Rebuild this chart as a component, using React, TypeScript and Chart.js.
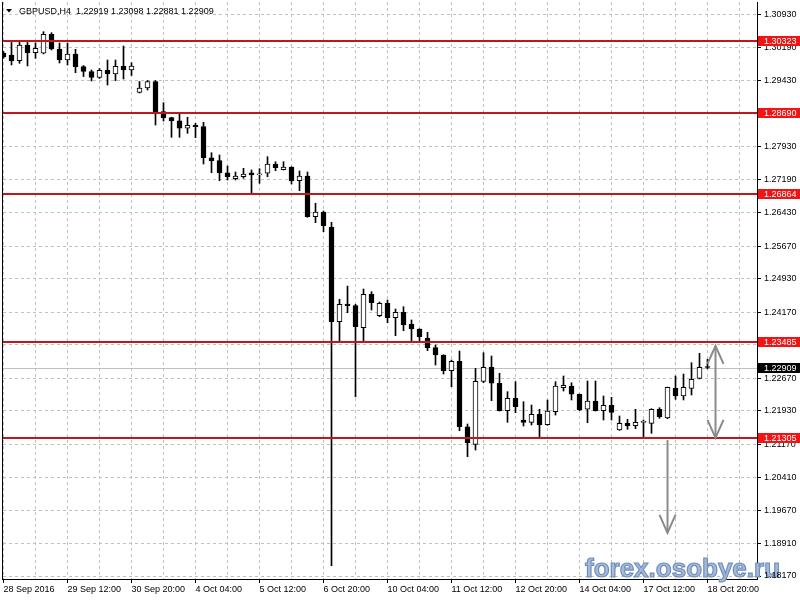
import React, { useEffect, useRef } from 'react';
import { Chart, registerables } from 'chart.js';

Chart.register(...registerables);

// ---- data ----
const timeLabels = ['28 Sep 2016', '29 Sep 12:00', '30 Sep 20:00', '4 Oct 04:00', '5 Oct 12:00', '6 Oct 20:00', '10 Oct 04:00', '11 Oct 12:00', '12 Oct 20:00', '14 Oct 04:00', '17 Oct 12:00', '18 Oct 20:00'];

const opens = [
  1.30055, 1.30014, 1.29884, 1.30241, 1.30066, 1.30053, 1.30484, 1.30150, 1.29900, 1.30037,
  1.29748, 1.29639, 1.29502, 1.29666, 1.29582, 1.29757, 1.29673, 1.29161, 1.29264, 1.29411,
  1.28725, 1.28589, 1.28520, 1.28348, 1.28416, 1.28384, 1.27679, 1.27611, 1.27338, 1.27202,
  1.27247, 1.27338, 1.27290, 1.27325, 1.27536, 1.27406, 1.27468, 1.27156, 1.27263, 1.26338,
  1.26445, 1.26097, 1.23951, 1.24353, 1.24320, 1.23815, 1.24574, 1.24087, 1.24369, 1.24042,
  1.24165, 1.23899, 1.23785, 1.23580, 1.23360, 1.23194, 1.22837, 1.23051, 1.21564, 1.21164,
  1.22596, 1.22914, 1.22551, 1.21928, 1.22210, 1.21716, 1.21664, 1.21846, 1.21610, 1.21905,
  1.22451, 1.22489, 1.22301, 1.21960, 1.22148, 1.21928, 1.22050, 1.21489, 1.21641, 1.21587,
  1.21664, 1.21641, 1.21960, 1.21762, 1.22437, 1.22262, 1.22437, 1.22664, 1.22919,
];
const highs = [
  1.30090, 1.30300, 1.30300, 1.30300, 1.30290, 1.30544, 1.30521, 1.30287, 1.30287, 1.30143,
  1.29775, 1.29673, 1.29707, 1.29900, 1.29900, 1.30218, 1.29839, 1.29411, 1.29434, 1.29434,
  1.28930, 1.28600, 1.28702, 1.28598, 1.28461, 1.28484, 1.27793, 1.27741, 1.27490, 1.27354,
  1.27438, 1.27400, 1.27429, 1.27702, 1.27588, 1.27588, 1.27475, 1.27377, 1.27354, 1.26643,
  1.26467, 1.26211, 1.24460, 1.24762, 1.24347, 1.24694, 1.24633, 1.24399, 1.24444, 1.24240,
  1.24292, 1.23990, 1.23792, 1.23710, 1.23421, 1.23200, 1.23080, 1.23285, 1.21625, 1.22892,
  1.23246, 1.23171, 1.22778, 1.22360, 1.22587, 1.22132, 1.22057, 1.21960, 1.22171, 1.22587,
  1.22717, 1.22564, 1.22310, 1.22603, 1.22603, 1.22262, 1.22232, 1.21807, 1.21732, 1.21960,
  1.21716, 1.21973, 1.21996, 1.22465, 1.22717, 1.22762, 1.23019, 1.23233, 1.23098,
];
const lows = [
  1.29940, 1.29787, 1.29825, 1.29764, 1.29939, 1.30040, 1.30128, 1.29832, 1.29787, 1.29611,
  1.29525, 1.29423, 1.29480, 1.29332, 1.29430, 1.29468, 1.29548, 1.29150, 1.29218, 1.28423,
  1.28514, 1.28143, 1.28143, 1.28234, 1.28134, 1.27536, 1.27338, 1.27156, 1.27172, 1.27172,
  1.27211, 1.26870, 1.27097, 1.27247, 1.27384, 1.27400, 1.27081, 1.26929, 1.26324, 1.26202,
  1.25997, 1.18404, 1.23496, 1.24156, 1.22246, 1.23496, 1.24217, 1.24065, 1.23928, 1.23633,
  1.23746, 1.23512, 1.23496, 1.23292, 1.22967, 1.22762, 1.22473, 1.21473, 1.20882, 1.21034,
  1.22564, 1.22155, 1.21920, 1.21664, 1.21882, 1.21580, 1.21603, 1.21323, 1.21596, 1.21830,
  1.22376, 1.22171, 1.21930, 1.21655, 1.21920, 1.21716, 1.21716, 1.21480, 1.21505, 1.21519,
  1.21337, 1.21414, 1.21755, 1.21746, 1.22187, 1.22171, 1.22285, 1.22650, 1.22881,
];
const closes = [
  1.29970, 1.29884, 1.30241, 1.30066, 1.30166, 1.30484, 1.30150, 1.29900, 1.30037, 1.29748,
  1.29639, 1.29502, 1.29666, 1.29582, 1.29757, 1.29673, 1.29764, 1.29264, 1.29411, 1.28725,
  1.28589, 1.28520, 1.28348, 1.28416, 1.28384, 1.27679, 1.27611, 1.27338, 1.27247, 1.27263,
  1.27309, 1.27286, 1.27300, 1.27536, 1.27452, 1.27468, 1.27156, 1.27263, 1.26338, 1.26445,
  1.26133, 1.23951, 1.24347, 1.24315, 1.23837, 1.24574, 1.24383, 1.24369, 1.24042, 1.24165,
  1.23876, 1.23785, 1.23610, 1.23360, 1.23194, 1.22837, 1.23051, 1.21564, 1.21200, 1.22596,
  1.22914, 1.22551, 1.21928, 1.22210, 1.22019, 1.21664, 1.21846, 1.21603, 1.21921, 1.22489,
  1.22505, 1.22301, 1.21944, 1.22148, 1.21928, 1.22050, 1.21891, 1.21641, 1.21580, 1.21664,
  1.21670, 1.21960, 1.21791, 1.22460, 1.22262, 1.22460, 1.22641, 1.22914, 1.22909,
];

const priceTicks = [
  1.30930, 1.30190, 1.29430, 1.28680, 1.27930, 1.27190, 1.26430, 1.25670, 1.24930,
  1.24170, 1.23430, 1.22670, 1.21930, 1.21170, 1.20410, 1.19670, 1.18910, 1.18170,
];
const levels = [1.30323, 1.28690, 1.26864, 1.23485, 1.21305];
const lastPrice = 1.22909;
const titleText = 'GBPUSD,H4  1.22919 1.23098 1.22881 1.22909';
const watermarkText = 'forex.osobye.ru';

// arrows drawn on the chart (candle index, top price, bottom price, heads)
const arrowIndex = [89, 83];
const arrowTop = [1.2340, 1.2126];
const arrowBottom = [1.2131, 1.1915];
const arrowBothEnds = [true, false];

// ---- axis ranges ----
const X_MIN = -0.0625;
const X_MAX = X_MIN + 754 / 8;
const Y_MAX = 1.312187;
const Y_MIN = Y_MAX - 577 / 4399;

const gridIdx: number[] = [];
for (let v = 0; v <= 92; v += 4) gridIdx.push(v);

const FONT = '"Liberation Sans", Arial, sans-serif';

const overlayPlugin = {
  id: 'mtOverlay',
  beforeDatasetsDraw(chart: any) {
    const { ctx, chartArea: a, scales } = chart;
    const py = Math.round(scales.y.getPixelForValue(lastPrice)) + 0.5;
    ctx.save();
    ctx.strokeStyle = '#c0c0c0';
    ctx.lineWidth = 1;
    ctx.beginPath();
    ctx.moveTo(a.left, py);
    ctx.lineTo(a.right, py);
    ctx.stroke();
    ctx.restore();
  },
  afterDatasetsDraw(chart: any) {
    const { ctx, chartArea: a, scales } = chart;
    ctx.save();
    // horizontal levels
    ctx.strokeStyle = '#c0161d';
    ctx.lineWidth = 2;
    levels.forEach((lv) => {
      const py = Math.round(scales.y.getPixelForValue(lv));
      ctx.beginPath();
      ctx.moveTo(a.left, py);
      ctx.lineTo(a.right, py);
      ctx.stroke();
    });
    // arrows
    ctx.strokeStyle = '#8a8a8a';
    ctx.lineWidth = 2;
    arrowIndex.forEach((xi, k) => {
      const px = scales.x.getPixelForValue(xi);
      const t = scales.y.getPixelForValue(arrowTop[k]);
      const b = scales.y.getPixelForValue(arrowBottom[k]);
      ctx.beginPath();
      ctx.moveTo(px, t);
      ctx.lineTo(px, b);
      ctx.stroke();
      ctx.beginPath();
      ctx.moveTo(px - 8, b - 18);
      ctx.lineTo(px, b);
      ctx.lineTo(px + 8, b - 18);
      ctx.stroke();
      if (arrowBothEnds[k]) {
        ctx.beginPath();
        ctx.moveTo(px - 8, t + 18);
        ctx.lineTo(px, t);
        ctx.lineTo(px + 8, t + 18);
        ctx.stroke();
      }
    });
    // left frame
    ctx.strokeStyle = '#000';
    ctx.lineWidth = 1;
    ctx.beginPath();
    ctx.moveTo(a.left - 0.5, a.top);
    ctx.lineTo(a.left - 0.5, a.bottom + 1);
    ctx.stroke();
    // title
    ctx.fillStyle = '#000';
    ctx.beginPath();
    ctx.moveTo(6, 9);
    ctx.lineTo(12, 9);
    ctx.lineTo(9, 12.5);
    ctx.closePath();
    ctx.fill();
    ctx.font = '9px ' + FONT;
    ctx.textBaseline = 'alphabetic';
    ctx.textAlign = 'left';
    ctx.fillText(titleText, 19, 13.5);
    // watermark
    ctx.font = 'bold 26px ' + FONT;
    ctx.lineWidth = 1.2;
    ctx.strokeStyle = '#6f8fbf';
    ctx.fillStyle = '#a7bad8';
    ctx.fillText(watermarkText, 585, 577);
    ctx.strokeText(watermarkText, 585, 577);
    ctx.restore();
  },
  afterDraw(chart: any) {
    const { ctx, chartArea: a, scales } = chart;
    ctx.save();
    ctx.font = '9px ' + FONT;
    ctx.textBaseline = 'middle';
    ctx.textAlign = 'left';
    const drawTag = (v: number, bg: string) => {
      const py = Math.round(scales.y.getPixelForValue(v));
      ctx.fillStyle = bg;
      ctx.fillRect(a.right + 1, py - 5, 800 - a.right - 1, 10);
      ctx.fillStyle = '#fff';
      ctx.fillText(v.toFixed(5), a.right + 7, py + 0.5);
    };
    levels.forEach((lv) => drawTag(lv, '#f01414'));
    drawTag(lastPrice, '#000');
    ctx.restore();
  },
};

export default function App() {
  const ref = useRef<HTMLCanvasElement>(null);
  useEffect(() => {
    const bodies = opens.map((o, i) => ({ x: i, y: [o, closes[i]] }));
    const wicks = lows.map((l, i) => ({ x: i, y: [l, highs[i]] }));
    const bodyColors = opens.map((o, i) => (closes[i] < o ? '#000000' : '#ffffff'));
    const chart = new Chart(ref.current as HTMLCanvasElement, {
      type: 'bar',
      data: {
        datasets: [
          {
            label: 'body',
            data: bodies as any,
            backgroundColor: bodyColors,
            borderColor: '#000',
            borderWidth: 1,
            borderSkipped: false,
            barThickness: 5,
            minBarLength: 1,
            grouped: false,
            order: 0,
          } as any,
          {
            label: 'wick',
            data: wicks as any,
            backgroundColor: '#000',
            borderWidth: 0,
            barThickness: 1,
            grouped: false,
            order: 1,
          } as any,
        ],
      },
      options: {
        responsive: false,
        animation: false,
        devicePixelRatio: 1,
        layout: { padding: { left: 3, top: 2, right: 0, bottom: 0 } },
        plugins: {
          legend: { display: false },
          tooltip: { enabled: false },
          title: { display: false },
        },
        scales: {
          x: {
            type: 'linear',
            position: 'bottom',
            offset: false,
            min: X_MIN,
            max: X_MAX,
            afterBuildTicks: (s: any) => {
              s.ticks = gridIdx.map((v) => ({ value: v }));
            },
            afterFit: (s: any) => {
              s.height = 21;
              s.paddingLeft = 0;
              s.paddingRight = 0;
            },
            grid: {
              offset: false,
              color: '#c0c0c0',
              lineWidth: 1,
              tickLength: 4,
              tickColor: (c: any) => (c.tick && c.tick.value % 8 === 0 ? '#000' : 'rgba(0,0,0,0)'),
            },
            border: { display: true, color: '#000', dash: [3, 3] },
            ticks: {
              autoSkip: false,
              maxRotation: 0,
              minRotation: 0,
              align: 'start',
              padding: 1,
              color: '#000',
              font: { family: FONT, size: 9 },
              callback: (v: any) => (v % 8 === 0 ? timeLabels[v / 8] : ''),
            },
          },
          y: {
            type: 'linear',
            position: 'right',
            min: Y_MIN,
            max: Y_MAX,
            afterBuildTicks: (s: any) => {
              s.ticks = priceTicks.map((v) => ({ value: v }));
            },
            afterFit: (s: any) => {
              s.width = 43;
              s.paddingTop = 0;
              s.paddingBottom = 0;
            },
            grid: { color: '#c0c0c0', lineWidth: 1, tickLength: 4, tickColor: '#000' },
            border: { display: true, color: '#000', dash: [3, 3] },
            ticks: {
              padding: 3,
              color: '#000',
              z: 1,
              font: { family: FONT, size: 9 },
              callback: (v: any) => Number(v).toFixed(5),
            },
          },
        },
      } as any,
      plugins: [overlayPlugin as any],
    });
    return () => chart.destroy();
  }, []);
  return (
    <div style={{ position: 'fixed', left: 0, top: 0, width: 800, height: 600, background: '#fff' }}>
      <canvas ref={ref} width={800} height={600} style={{ width: 800, height: 600, display: 'block' }} />
    </div>
  );
}
